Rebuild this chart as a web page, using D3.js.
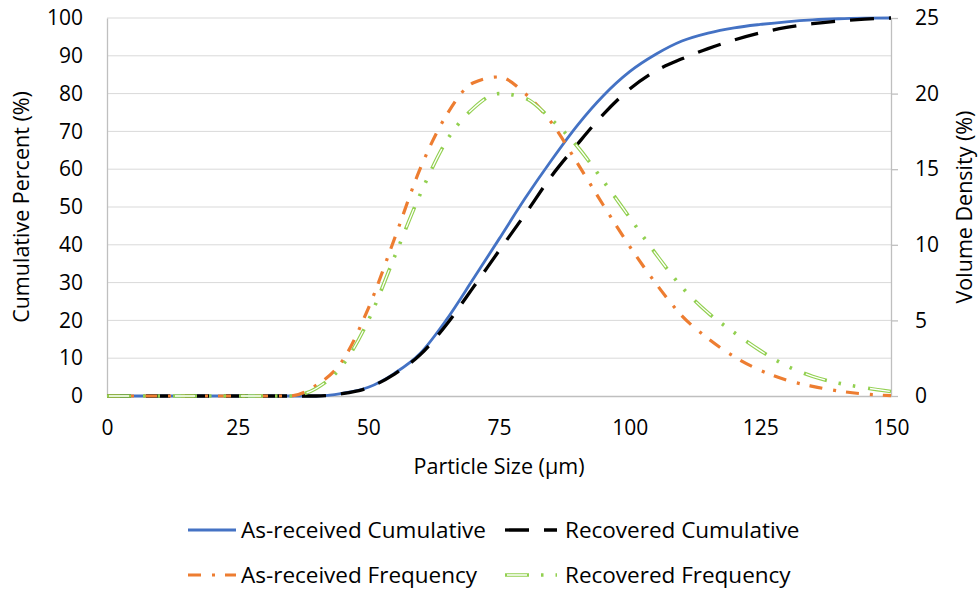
<!DOCTYPE html>
<html>
<head>
<meta charset="utf-8">
<script src="https://cdn.jsdelivr.net/npm/d3@7"></script>
<style>
  body { margin: 0; background: #fff; }
  text { font-family: "Open Sans", sans-serif; fill: #000; }
</style>
</head>
<body>
<svg id="chart"></svg>
<script>
// particle sizes (um) at which the curves are read
var sizes = [0, 5, 10, 15, 20, 25, 30, 35, 40, 45, 50, 55, 60, 65, 70, 75,
  80, 85, 90, 95, 100, 105, 110, 115, 120, 125, 130, 135, 140, 145, 150];

// cumulative percent (left axis)
var asReceivedCum = [0, 0, 0, 0, 0, 0, 0, 0, 0, 0.7, 2.3, 6.0, 11.4, 20.3, 30.8, 41.5,
  52.3, 62.3, 71.6, 79.5, 85.8, 90.4, 93.9, 96.0, 97.4, 98.3, 99.0, 99.5, 99.8, 99.95, 100];
var recoveredCum = [0, 0, 0, 0, 0, 0, 0, 0, 0, 0.6, 2.2, 5.8, 11.0, 19.0, 28.6, 38.4,
  48.1, 58.1, 66.6, 74.6, 81.2, 86.0, 89.2, 91.9, 94.2, 96.1, 97.5, 98.5, 99.2, 99.7, 100];

// volume density (right axis)
var asReceivedFreq = [0, 0, 0, 0, 0, 0, 0, 0, 0.7, 2.3, 5.8, 10.4, 15.1, 18.6, 20.7, 21.1,
  20.0, 18.1, 15.4, 12.6, 9.9, 7.45, 5.3, 3.8, 2.6, 1.7, 1.05, 0.64, 0.33, 0.13, 0.02];
var recoveredFreq = [0, 0, 0, 0, 0, 0, 0, 0, 0.5, 2.0, 5.0, 9.2, 13.4, 16.9, 19.0, 20.0,
  19.7, 18.3, 16.5, 14.2, 11.8, 9.4, 7.2, 5.5, 4.2, 3.0, 2.0, 1.3, 0.85, 0.55, 0.3];

var xTicks = [0, 25, 50, 75, 100, 125, 150];
var leftTicks = [0, 10, 20, 30, 40, 50, 60, 70, 80, 90, 100];
var rightTicks = [0, 5, 10, 15, 20, 25];

var seriesNames = ['As-received Cumulative', 'Recovered Cumulative',
  'As-received Frequency', 'Recovered Frequency'];

// layout
var width = 979, height = 592;
var margin = {top: 18, right: 88, bottom: 196, left: 107};
var innerW = width - margin.left - margin.right;
var innerH = height - margin.top - margin.bottom;

var svg = d3.select('#chart')
  .attr('width', width)
  .attr('height', height);

var g = svg.append('g')
  .attr('transform', 'translate(' + margin.left + ',' + margin.top + ')');

// scales
var x = d3.scaleLinear().domain([0, 150]).range([0, innerW]);
var yL = d3.scaleLinear().domain([0, 100]).range([innerH, 0]);
var yR = d3.scaleLinear().domain([0, 25]).range([innerH, 0]);

// gridlines
g.append('g')
  .selectAll('line')
  .data(leftTicks.slice(1))
  .enter()
  .append('line')
    .attr('x1', 0)
    .attr('x2', innerW)
    .attr('y1', function(d) { return yL(d); })
    .attr('y2', function(d) { return yL(d); })
    .style('stroke', '#d9d9d9')
    .style('stroke-width', 1);

// axes
var xAxis = g.append('g')
  .attr('transform', 'translate(0,' + innerH + ')')
  .call(d3.axisBottom(x).tickValues(xTicks).tickSize(0).tickPadding(24));
var leftAxis = g.append('g')
  .call(d3.axisLeft(yL).tickValues(leftTicks).tickSize(0).tickPadding(24));
var rightAxis = g.append('g')
  .attr('transform', 'translate(' + innerW + ',0)')
  .call(d3.axisRight(yR).tickValues(rightTicks).tickSize(7).tickPadding(17).tickSizeOuter(0));

[xAxis, leftAxis, rightAxis].forEach(function(a) {
  a.select('.domain').style('stroke', '#bfbfbf').style('stroke-width', 1.3);
  a.selectAll('.tick line').style('stroke', '#bfbfbf').style('stroke-width', 1.3);
  a.selectAll('.tick text')
    .style('font-family', '"Open Sans", sans-serif')
    .style('font-size', '21px')
    .style('fill', '#000');
});

// axis titles
svg.append('text')
  .attr('x', margin.left + innerW / 2)
  .attr('y', 474)
  .attr('text-anchor', 'middle')
  .style('font-size', '21.5px')
  .text('Particle Size (µm)');
svg.append('text')
  .attr('transform', 'translate(29,' + (margin.top + innerH / 2) + ') rotate(-90)')
  .attr('text-anchor', 'middle')
  .style('font-size', '21.5px')
  .text('Cumulative Percent (%)');
svg.append('text')
  .attr('transform', 'translate(972,' + (margin.top + innerH / 2) + ') rotate(-90)')
  .attr('text-anchor', 'middle')
  .style('font-size', '21.5px')
  .text('Volume Density (%)');

// line generators
function lineFor(scale) {
  return d3.line()
    .x(function(d, i) { return x(sizes[i]); })
    .y(function(d) { return scale(d); })
    .curve(d3.curveMonotoneX);
}
var lineL = lineFor(yL);
var lineR = lineFor(yR);

// styles for each series (outer stroke and optional inner white stroke)
var styles = [
  {color: '#4472c4', w: 2.8, dash: null},
  {color: '#000000', w: 3.3, dash: '24,15'},
  {color: '#ed7d31', w: 3.2, dash: '13,11,3,10'},
  {color: '#92d050', w: 3.6, dash: '24,12,2.5,12,2.5,13', inner: '0,2,20,44'}
];

function drawPath(sel, d, st) {
  sel.append('path')
    .attr('d', d)
    .style('fill', 'none')
    .style('stroke', st.color)
    .style('stroke-width', st.w)
    .style('stroke-dasharray', st.dash);
  if (st.inner) {
    sel.append('path')
      .attr('d', d)
      .style('fill', 'none')
      .style('stroke', '#fff')
      .style('stroke-width', 1.3)
      .style('stroke-dasharray', st.inner);
  }
}

var plot = g.append('g');
drawPath(plot, lineL(asReceivedCum), styles[0]);
drawPath(plot, lineL(recoveredCum), styles[1]);
drawPath(plot, lineR(asReceivedFreq), styles[2]);
drawPath(plot, lineR(recoveredFreq), styles[3]);

// legend
var legendPos = [[188, 530], [505, 530], [188, 575], [505, 575]];
seriesNames.forEach(function(name, i) {
  var lg = svg.append('g')
    .attr('transform', 'translate(' + legendPos[i][0] + ',' + legendPos[i][1] + ')');
  drawPath(lg, 'M0,0L' + (i % 2 ? 52 : 48) + ',0', styles[i]);
  lg.append('text')
    .attr('x', i % 2 ? 60 : 53)
    .attr('y', 0)
    .attr('dy', '0.35em')
    .style('font-size', '22.5px')
    .text(name);
});
</script>
</body>
</html>
